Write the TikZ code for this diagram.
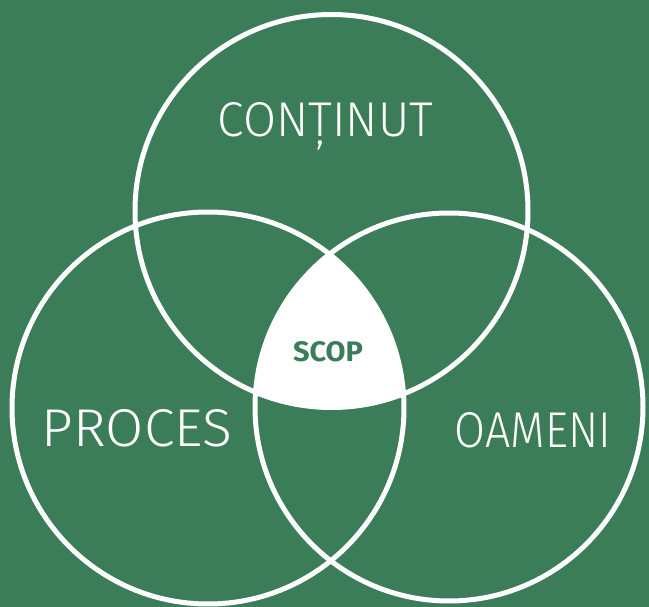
\documentclass[tikz,border=0pt]{standalone}
\usepackage{fontspec}
\setmainfont{Fira Sans}
\newfontfamily\handlight{Fira Sans Light}
\definecolor{board}{RGB}{59,125,88}
\begin{document}
\begin{tikzpicture}[x=1pt,y=-1pt,
  ring/.style={draw=white, line width=5pt},
  word/.style={text=white, inner sep=0pt, anchor=base, font=\handlight},
  core/.style={text=board, inner sep=0pt, anchor=base, font=\rmfamily\bfseries}]
% chalkboard background
\fill[board] (0,0) rectangle (649,607);
\useasboundingbox (0,0) rectangle (649,607);
% circle centres
\coordinate (ct) at (331.5,211);
\coordinate (cl) at (208,408);
\coordinate (cr) at (449,407);
% common area of the three sets
\begin{scope}
  \clip (ct) circle (196.5pt);
  \clip (cl) circle (196pt);
  \fill[white] (cr) circle (194pt);
\end{scope}
% the three sets
\draw[ring] (ct) circle (196.5pt);
\draw[ring] (cl) circle (196pt);
\draw[ring] (cr) circle (194pt);
% set names
\node[word] (continut) at (325.5,137) {\resizebox{215pt}{34pt}{CONȚINUT}};
\node[word] (proces) at (137,446) {\resizebox{190pt}{37pt}{PROCES}};
\node[word] (oameni) at (533,447) {\resizebox{156pt}{35pt}{OAMENI}};
\node[core] (scop) at (328,361) {\resizebox{70pt}{20pt}{SCOP}};
\end{tikzpicture}
\end{document}
